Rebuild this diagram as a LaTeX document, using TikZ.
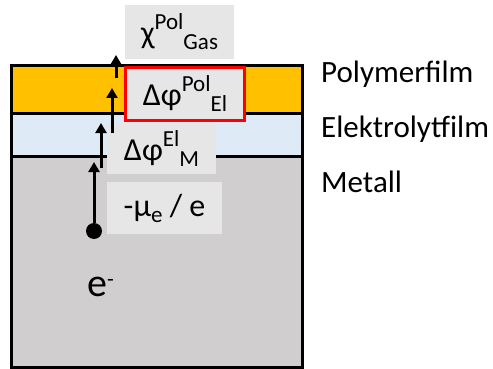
\documentclass[tikz,border=0pt]{standalone}
\usepackage{fontspec}
\setmainfont{Carlito}
\usetikzlibrary{arrows.meta,positioning}
\definecolor{polyGold}{HTML}{FFC000}
\definecolor{elyBlue}{HTML}{DEEBF7}
\definecolor{metGray}{HTML}{D0CECE}
\definecolor{boxGray}{HTML}{E7E6E6}
\definecolor{frameRed}{HTML}{FF0000}
\newcommand{\supsub}[3]{#1\raisebox{14pt}{\fontsize{23}{23}\selectfont #2}\raisebox{-6pt}{\fontsize{23}{23}\selectfont #3}}

\begin{document}
\begin{tikzpicture}[x=1pt,y=-1pt,
  box/.style={fill=boxGray,inner sep=0pt,font=\fontsize{32}{34}\selectfont},
  hot/.style={box,draw=frameRed,line width=3pt},
  layer/.style={inner sep=0pt,anchor=base west,font=\fontsize{31}{34}\selectfont},
  arr/.style={-{Triangle[width=11pt,length=10pt]},line width=3pt}]
  \useasboundingbox (0,0) rectangle (493,369);
  % film stack
  \fill[metGray] (11,156) rectangle (302,367);
  \fill[elyBlue] (11,113) rectangle (302,156);
  \fill[polyGold] (11,66) rectangle (302,113);
  \draw[line width=3pt] (11,113) -- (302,113) (11,156) -- (302,156);
  \draw[line width=3pt] (11,66) rectangle (302,367);
  % potential steps
  \node[box,minimum width=109pt,minimum height=54pt] (chi) at (179.5,32) {\supsub{χ}{Pol}{Gas}};
  \node[hot,minimum width=119pt,minimum height=53pt] (dpol) at (185,94) {\supsub{Δφ}{Pol}{El}};
  \node[box,minimum width=109pt,minimum height=51pt] (del) at (161.5,148.5) {\supsub{Δφ}{El}{M}};
  \node[box,minimum width=115pt,minimum height=52pt] (mu) at (164.5,208) {-μ\raisebox{-6pt}{\fontsize{23}{23}\selectfont e} / e};
  % layer names
  \node[layer] (lpoly) at (321,83) {Polymerfilm};
  \node[layer] (lely) at (321,137) {Elektrolytfilm};
  \node[layer] (lmet) at (321,192) {Metall};
  % electron
  \node[circle,fill,inner sep=0pt,minimum size=16pt] (dot) at (94,231) {};
  \node[inner sep=0pt,anchor=base west,font=\fontsize{40}{40}\selectfont] (elec) at (87,296) {e\raisebox{10pt}{\fontsize{22}{22}\selectfont -}};
  \coordinate (t1) at (94,162);
  \coordinate (b2) at (101,168);
  \coordinate (t2) at (101,123);
  \coordinate (b3) at (112,133);
  \coordinate (t3) at (112,88);
  \coordinate (b4) at (116,78);
  \coordinate (t4) at (116,55);
  \draw[arr] (dot) -- (t1);
  \draw[arr] (b2) -- (t2);
  \draw[arr] (b3) -- (t3);
  \draw[arr] (b4) -- (t4);
\end{tikzpicture}
\end{document}
